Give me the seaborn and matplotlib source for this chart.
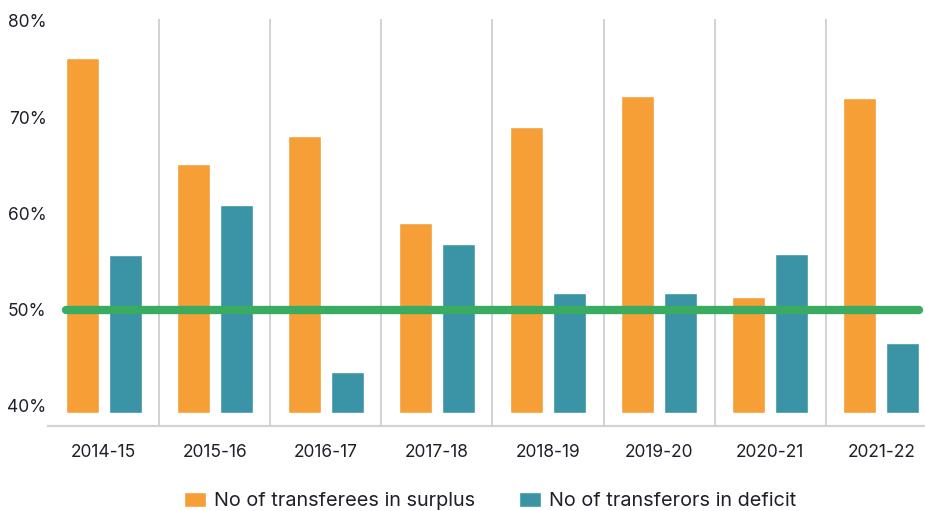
import matplotlib
matplotlib.use("Agg")
import matplotlib.pyplot as plt
import seaborn as sns
import pandas as pd
from matplotlib.patches import Patch

# ---- data ----
years = ["2014-15", "2015-16", "2016-17", "2017-18", "2018-19", "2019-20", "2020-21", "2021-22"]
transferees_surplus = [76.1, 65.1, 68.0, 59.0, 69.0, 72.2, 51.3, 72.0]
transferors_deficit = [55.7, 60.9, 43.5, 56.8, 51.7, 51.7, 55.8, 46.5]
series_names = ["No of transferees in surplus", "No of transferors in deficit"]
threshold = 50
y_ticks = [40, 50, 60, 70, 80]

# ---- styles ----
ORANGE = "#F69F37"
TEAL = "#3B94A6"
GREEN = "#3AAC62"
BAR_BASE = 39.3

df = pd.DataFrame({
    "year": years * 2,
    "series": [series_names[0]] * len(years) + [series_names[1]] * len(years),
    "value": transferees_surplus + transferors_deficit,
})
df["height"] = df["value"] - BAR_BASE

sns.set_theme(style="white")
plt.rcParams["font.family"] = ["Inter", "DejaVu Sans"]

fig = plt.figure(figsize=(9.25, 5.11), dpi=100)
ax = fig.add_axes([48 / 925, 85 / 511, 889 / 925, 407 / 511])

sns.barplot(data=df, x="year", y="height", hue="series", order=years,
            hue_order=series_names, palette=[ORANGE, TEAL],
            width=0.775, gap=0.233, saturation=1, legend=False,
            bottom=BAR_BASE, ax=ax, zorder=2)

# separators between groups
for i in range(len(years) - 1):
    ax.axvline(i + 0.5, color="#CFCFCF", lw=1.3, zorder=1)

# 50% line spanning from first bar's left edge to last bar's right edge
span = 0.775 / 2 - 0.775 / 2 * 0.233 / 2
sns.lineplot(x=[-span, len(years) - 1 + span], y=[threshold, threshold],
             color=GREEN, lw=6, ax=ax, zorder=3, solid_capstyle="round")

ax.set_xlim(-0.5, len(years) - 0.5)
ax.set_ylim(37.9, 80.2)
ax.set_yticks(y_ticks)
ax.set_yticklabels([f"{t}%" for t in y_ticks])
ax.set_xlabel("")
ax.set_ylabel("")
ax.tick_params(axis="both", length=0, colors="#1F1F2A")
ax.tick_params(axis="y", pad=1, labelsize=12.5)
ax.tick_params(axis="x", pad=13, labelsize=12.5)
for s in ["top", "right", "left"]:
    ax.spines[s].set_visible(False)
ax.spines["bottom"].set_color("#D2D2D2")
ax.spines["bottom"].set_linewidth(1.6)

handles = [Patch(facecolor=ORANGE, label=series_names[0]),
           Patch(facecolor=TEAL, label=series_names[1])]
fig.legend(handles=handles, loc="center", bbox_to_anchor=(490 / 925, 1 - 501 / 511),
           ncol=2, frameon=False, fontsize=14.3, handlelength=1.1, handleheight=0.8,
           handletextpad=0.4, columnspacing=2.2, labelcolor="#1F1F2A")

fig.savefig("out.png", dpi=100)
